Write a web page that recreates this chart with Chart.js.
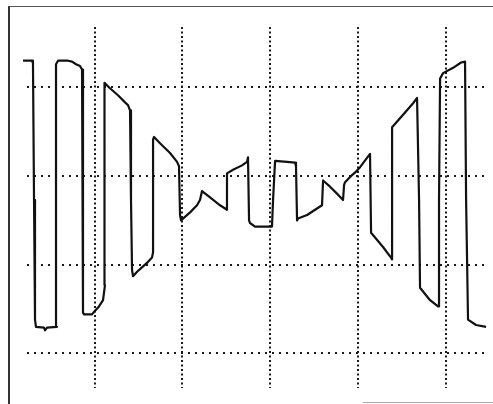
<!DOCTYPE html>
<html>
<head>
<meta charset="utf-8">
<script src="https://cdn.jsdelivr.net/npm/chart.js@4.4.1/dist/chart.umd.min.js"></script>
<style>
  html, body { margin: 0; padding: 0; background: #fff; }
  #wrap { position: relative; width: 493px; height: 404px; }
  #frame { position: absolute; left: 8px; top: 6px; right: 0; bottom: 0;
           border-left: 2px solid #333; border-top: 1.5px solid #555; }
  #edge { position: absolute; left: 363px; right: 0; top: 402px; height: 1px; background: #aaa; }
  canvas { position: absolute; left: 0; top: 0; }
</style>
</head>
<body>
<div id="wrap">
  <div id="frame"></div>
  <div id="edge"></div>
  <canvas id="scope" width="493" height="404"></canvas>
</div>
<script>
// scope trace, time in ms (10 ms / div), level in V (1 V / div)
var timeMs = [1.87, 2.89, 3.00, 3.12, 3.23, 3.34, 4.25, 4.37, 4.60, 5.73, 5.62, 5.62, 5.85, 6.99, 7.44, 7.90, 8.35, 8.58,
  8.69, 8.69, 8.81, 9.72, 10.06, 10.51, 10.97, 11.19, 11.08, 11.19, 11.76, 12.67, 13.47, 13.81, 14.04,
  14.15, 14.27, 14.38, 14.84, 15.40, 15.97, 16.54, 16.66, 16.66, 16.77, 17.45, 18.59, 19.39, 19.61,
  19.73, 19.84, 20.87, 21.66, 22.00, 22.23, 23.14, 24.28, 25.07, 25.07, 25.76, 26.78, 27.35, 27.46,
  27.58, 27.69, 28.26, 30.19, 30.31, 30.54, 31.90, 32.81, 32.92, 33.04, 33.15, 34.18, 35.09, 35.88,
  36.00, 36.79, 37.70, 38.27, 38.39, 38.50, 39.07, 39.75, 40.21, 41.34, 41.46, 42.82, 43.73, 43.85,
  43.85, 45.10, 46.24, 46.69, 46.92, 47.03, 48.17, 49.08, 49.19, 49.19, 49.31, 49.65, 50.79, 51.70,
  52.15, 52.27, 52.49, 53.40, 54.54];
var volts = [1.30, 1.30, 1.27, -0.27, -1.62, -1.70, -1.71, -1.74, -1.71, -1.70, 0.86, 1.26, 1.30, 1.30, 1.29, 1.26, 1.24, 1.20,
  -0.27, -1.54, -1.56, -1.56, -1.52, -1.47, -1.40, -1.23, 0.97, 1.05, 0.99, 0.91, 0.83, 0.80, 0.74,
  -0.27, -1.06, -1.13, -1.08, -1.03, -0.98, -0.92, -0.86, 0.41, 0.44, 0.37, 0.26, 0.16, 0.11,
  -0.44, -0.50, -0.41, -0.33, -0.27, -0.17, -0.24, -0.33, -0.38, 0.03, 0.07, 0.12, 0.16, 0.21,
  -0.50, -0.53, -0.57, -0.57, -0.27, 0.17, 0.16, 0.15, 0.11, -0.50, -0.48, -0.44, -0.38, -0.33,
  -0.05, -0.12, -0.21, -0.27, -0.10, -0.07, -0.01, 0.05, 0.10, 0.25, -0.64, -0.80, -0.92, -0.94,
  0.55, 0.69, 0.82, 0.88, -0.27, -1.26, -1.40, -1.47, -1.47, -0.27, 1.10, 1.16, 1.22, 1.28,
  1.29, -0.27, -1.62, -1.68, -1.70];

// graticule lines
var timeTicks = [10, 20, 30, 40, 50];
var voltTicks = [1, 0, -1, -2];

var trace = timeMs.map(function (t, i) { return { x: t, y: volts[i] }; });

var scope = new Chart(document.getElementById('scope'), {
  type: 'scatter',
  data: {
    datasets: [{
      data: trace,
      showLine: true,
      borderColor: '#111',
      borderWidth: 2.2,
      borderJoinStyle: 'round',
      pointRadius: 0,
      tension: 0,
      clip: false
    }]
  },
  options: {
    responsive: false,
    animation: false,
    layout: { padding: { left: 27, top: 27, right: 8, bottom: 16 } },
    plugins: { legend: { display: false }, tooltip: { enabled: false } },
    scales: {
      x: {
        type: 'linear', min: 2.32, max: 54.42,
        afterBuildTicks: function (axis) { axis.ticks = timeTicks.map(function (v) { return { value: v }; }); },
        ticks: { display: false },
        grid: { color: '#1a1a1a', lineWidth: 2, drawTicks: false },
        border: { display: false, dash: [2, 2.5] }
      },
      y: {
        type: 'linear', min: -2.39, max: 1.68,
        afterBuildTicks: function (axis) { axis.ticks = voltTicks.map(function (v) { return { value: v }; }); },
        ticks: { display: false },
        grid: { color: '#1a1a1a', lineWidth: 2, drawTicks: false },
        border: { display: false, dash: [2, 5] }
      }
    }
  }
});
</script>
</body>
</html>
